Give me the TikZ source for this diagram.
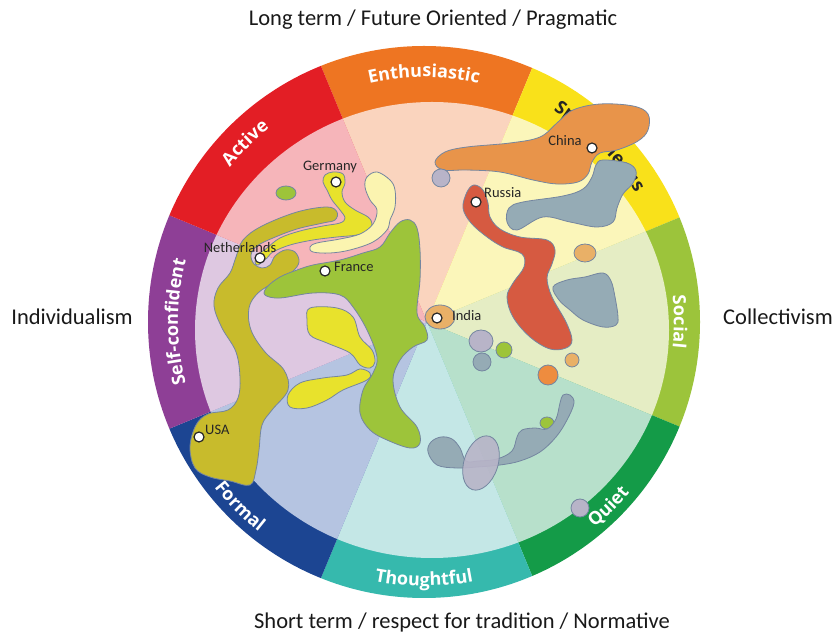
\documentclass[tikz,border=0pt]{standalone}
\usepackage{fontspec}
\setmainfont{Carlito}
\newfontfamily\ringfam{Open Sans}
\usetikzlibrary{decorations.text}
% ring colours
\definecolor{rAct}{HTML}{E31E25}
\definecolor{rEnt}{HTML}{EE7522}
\definecolor{rSpo}{HTML}{F9E11A}
\definecolor{rSoc}{HTML}{9CC43B}
\definecolor{rQui}{HTML}{149B48}
\definecolor{rTho}{HTML}{36B9AD}
\definecolor{rFor}{HTML}{1C4592}
\definecolor{rSel}{HTML}{8E3F96}
% pale wedge colours
\definecolor{pAct}{HTML}{F6B5BA}
\definecolor{pEnt}{HTML}{FAD4BE}
\definecolor{pSpo}{HTML}{FBF6BA}
\definecolor{pSoc}{HTML}{E5EDC4}
\definecolor{pQui}{HTML}{B7E0CB}
\definecolor{pTho}{HTML}{C4E7E6}
\definecolor{pFor}{HTML}{B5C4E1}
\definecolor{pSel}{HTML}{DEC8E1}
% blob colours
\definecolor{blobline}{HTML}{7486A0}
\definecolor{bOlive}{HTML}{C8BB2C}
\definecolor{bYellow}{HTML}{E8E22C}
\definecolor{bPale}{HTML}{FBF4B0}
\definecolor{bGreen}{HTML}{9DC43A}
\definecolor{bChina}{HTML}{E8944A}
\definecolor{bRussia}{HTML}{D65A41}
\definecolor{bSlate}{HTML}{95ABB5}
\definecolor{bLav}{HTML}{B8B4C8}
\definecolor{bLtOr}{HTML}{E9B067}
\definecolor{bOr}{HTML}{EE8C3F}
\newcommand\ringlab{\ringfam\fontsize{18}{22}\selectfont\bfseries\color{white}}
\newcommand\ringlabdark{\ringfam\fontsize{18}{22}\selectfont\bfseries\color{black!85}}
\tikzset{
  blob/.style={draw=blobline, line width=0.8pt},
  cdot/.style={circle, fill=white, draw=black!85, line width=1.2pt, minimum size=10pt, inner sep=0pt},
  country/.style={font=\fontsize{14.5}{16}\selectfont, text=black!85, inner sep=0pt},
  titletext/.style={font=\fontsize{22.5}{26}\selectfont, text=black!90, inner sep=0pt},
}
\begin{document}
\begin{tikzpicture}[x=1pt,y=1pt]
\useasboundingbox (0,0) rectangle (835,637);
\fill[white] (0,0) rectangle (835,637);
\coordinate (O) at (424,315);
\coordinate (A) at (427,315);
% outer ring sectors
\begin{scope}
  \clip (O) circle [radius=276];
  \fill[rEnt] (A) -- +(67.5:400) -- +(112.5:400) -- cycle;
  \fill[rSpo] (A) -- +(22.5:400) -- +(67.5:400) -- cycle;
  \fill[rSoc] (A) -- +(-22.5:400) -- +(22.5:400) -- cycle;
  \fill[rQui] (A) -- +(-67.5:400) -- +(-22.5:400) -- cycle;
  \fill[rTho] (A) -- +(-112.5:400) -- +(-67.5:400) -- cycle;
  \fill[rFor] (A) -- +(-157.5:400) -- +(-112.5:400) -- cycle;
  \fill[rSel] (A) -- +(157.5:400) -- +(202.5:400) -- cycle;
  \fill[rAct] (A) -- +(112.5:400) -- +(157.5:400) -- cycle;
\end{scope}
% pale inner wedges
\begin{scope}
  \clip (432,307) ellipse [x radius=237, y radius=228];
  \fill[pEnt] (A) -- +(67.5:400) -- +(112.5:400) -- cycle;
  \fill[pSpo] (A) -- +(22.5:400) -- +(67.5:400) -- cycle;
  \fill[pSoc] (A) -- +(-22.5:400) -- +(22.5:400) -- cycle;
  \fill[pQui] (A) -- +(-67.5:400) -- +(-22.5:400) -- cycle;
  \fill[pTho] (A) -- +(-112.5:400) -- +(-67.5:400) -- cycle;
  \fill[pFor] (A) -- +(-157.5:400) -- +(-112.5:400) -- cycle;
  \fill[pSel] (A) -- +(157.5:400) -- +(202.5:400) -- cycle;
  \fill[pAct] (A) -- +(112.5:400) -- +(157.5:400) -- cycle;
\end{scope}
% ring labels
\path[decorate, decoration={text along path, text={|\ringlab|Enthusiastic}, text align=center}]
  (O) ++(112:245) arc[start angle=112, end angle=68, radius=245];
\path[decorate, decoration={text along path, text={|\ringlabdark|Spontaneous}, text align=center}]
  (O) ++(67:248) arc[start angle=67, end angle=23, radius=248];
\path[decorate, decoration={text along path, text={|\ringlab|Social}, text align=center}]
  (O) ++(22:250) arc[start angle=22, end angle=-22, radius=250];
\path[decorate, decoration={text along path, text={|\ringlab|Self-confident}, text align=center}]
  (O) ++(205:246) arc[start angle=205, end angle=155, radius=246];
\path[decorate, decoration={text along path, text={|\ringlab|Active}, text align=center}]
  (O) ++(157:248) arc[start angle=157, end angle=113, radius=248];
\path[decorate, decoration={text along path, text={|\ringlab|Thoughtful}, text align=center}]
  (O) ++(-112:264) arc[start angle=-112, end angle=-68, radius=264];
\path[decorate, decoration={text along path, text={|\ringlab|Formal}, text align=center}]
  (O) ++(-157:267) arc[start angle=-157, end angle=-113, radius=267];
\path[decorate, decoration={text along path, text={|\ringlab|Quiet}, text align=center}]
  (O) ++(-67:267) arc[start angle=-67, end angle=-23, radius=267];
% outer titles
\node[titletext] (tTop) at (433,617) {Long term / Future Oriented / Pragmatic};
\node[titletext] (tBot) at (462,14) {Short term / respect for tradition / Normative};
\node[titletext] (tInd) at (72,320) {Individualism};
\node[titletext] (tCol) at (778,320) {Collectivism};
% blobs, in image coordinates (y down)
\begin{scope}[yshift=637pt, yscale=-1]
  % Netherlands / USA
  \draw[blob, fill=bOlive] plot[smooth cycle, tension=0.6] coordinates {(243,240) (262,226) (297,212) (327,207) (337,212) (335,220) (323,223) (297,229) (273,238) (257,246) (251,255) (254,264) (262,268) (270,265) (275,256) (285,250) (295,252) (299,262) (292,272) (275,282) (258,293) (249,308) (251,330) (265,352) (284,370) (288,390) (272,410) (262,425) (259,450) (256,470) (250,485) (230,481) (210,477) (195,468) (190,447) (196,425) (208,414) (228,410) (238,398) (240,378) (236,352) (222,328) (214,306) (218,288) (230,273) (236,257)};
  % Germany
  \draw[blob, fill=bYellow] plot[smooth cycle, tension=0.6] coordinates {(325,175) (333,172) (343,174) (345,183) (342,192) (345,202) (355,210) (368,217) (372,224) (368,231) (357,235) (337,237) (313,240) (290,245) (273,252) (267,258) (258,265) (255,262) (258,255) (267,248) (280,238) (300,231) (323,226) (340,223) (345,218) (340,210) (332,200) (327,190) (323,182)};
  % pale yellow
  \draw[blob, fill=bPale] plot[smooth cycle, tension=0.6] coordinates {(377,172) (390,180) (395,190) (395,207) (390,220) (387,230) (373,242) (350,250) (330,253) (313,252) (310,247) (317,243) (340,239) (360,234) (373,224) (377,210) (370,200) (365,187) (367,177)};
  % lower yellow blobs
  \draw[blob, fill=bYellow] plot[smooth cycle, tension=0.6] coordinates {(310,308) (337,308) (353,317) (360,337) (372,350) (375,362) (370,368) (360,365) (350,353) (327,343) (310,335) (307,320)};
  \draw[blob, fill=bYellow] plot[smooth cycle, tension=0.6] coordinates {(360,369) (370,373) (367,380) (343,390) (327,400) (307,408) (290,407) (288,395) (300,383) (323,378) (347,375)};
  % France
  \draw[blob, fill=bGreen] plot[smooth cycle, tension=0.6] coordinates {(400,222) (410,220) (417,228) (420,250) (420,280) (417,313) (425,327) (427,340) (413,347) (400,360) (393,380) (400,407) (417,427) (420,443) (410,448) (387,440) (370,430) (360,413) (363,390) (373,373) (377,357) (367,330) (353,307) (340,295) (313,293) (280,298) (265,295) (267,287) (280,277) (297,270) (313,265) (340,260) (363,253) (380,247) (390,233)};
  % small lime ellipse
  \draw[blob, fill=bGreen] (286,193) ellipse [x radius=10, y radius=7];
  % China
  \draw[blob, fill=bChina] plot[smooth cycle, tension=0.6] coordinates {(435,162) (445,152) (467,147) (510,143) (540,137) (558,122) (573,110) (600,104) (633,106) (648,114) (648,130) (638,141) (617,150) (600,153) (592,162) (588,174) (578,182) (557,184) (533,180) (500,172) (467,170) (443,170)};
  \draw[blob, fill=bLav] (441,178) circle [radius=9];
  % slate blob 1
  \draw[blob, fill=bSlate] plot[smooth cycle, tension=0.6] coordinates {(603,160) (627,163) (636,171) (633,183) (623,194) (617,208) (613,222) (597,227) (570,222) (543,217) (517,230) (507,222) (509,208) (523,202) (563,196) (583,189) (592,177) (596,165)};
  % Russia
  \draw[blob, fill=bRussia] plot[smooth cycle, tension=0.6] coordinates {(467,192) (474,185) (483,190) (488,203) (490,217) (500,229) (520,237) (547,240) (555,250) (552,264) (547,278) (552,297) (566,322) (572,340) (566,348) (550,349) (530,337) (513,317) (507,297) (513,283) (524,267) (522,254) (503,247) (487,237) (471,223) (463,208)};
  % slate blob 2
  \draw[blob, fill=bSlate] plot[smooth cycle, tension=0.6] coordinates {(553,287) (567,280) (585,277) (603,273) (611,281) (615,297) (618,317) (616,325) (603,327) (583,320) (570,310) (559,300)};
  % small circles
  \draw[blob, fill=bLtOr] (585,253) ellipse [x radius=11, y radius=9];
  \draw[blob, fill=bLtOr] (572,360) circle [radius=7];
  \draw[blob, fill=bOr] (548,375) circle [radius=10];
  \draw[blob, fill=bLav] (481,341) ellipse [x radius=12, y radius=11];
  \draw[blob, fill=bSlate] (482,362) circle [radius=9];
  \draw[blob, fill=bGreen] (504,350) circle [radius=8];
  \draw[blob, fill=bGreen] (547,423) ellipse [x radius=7, y radius=6];
  % India
  \draw[blob, fill=bLtOr] (440,317) ellipse [x radius=15, y radius=12];
  % wave
  \draw[blob, fill=bSlate] plot[smooth cycle, tension=0.6] coordinates {(428,452) (431,442) (441,437) (452,439) (460,448) (466,461) (478,461) (497,459) (512,451) (517,437) (522,430) (535,428) (547,429) (556,419) (560,403) (563,395) (570,395) (574,403) (567,420) (556,437) (540,452) (520,461) (500,465) (477,467) (457,468) (437,465)};
  \draw[blob, fill=bLav, fill opacity=0.9] (481,463) ellipse [x radius=28, y radius=17, rotate=108];
  \draw[blob, fill=bLav] (580,508) circle [radius=9];
  % dots
  \node[cdot] (dGer) at (336,182) {};
  \node[cdot] (dNet) at (260,258) {};
  \node[cdot] (dFra) at (325,271) {};
  \node[cdot] (dUSA) at (199,437) {};
  \node[cdot] (dChi) at (592,148) {};
  \node[cdot] (dRus) at (476,202) {};
  \node[cdot] (dInd) at (437,318) {};
  % country names
  \node[country] (lGer) at (330,167) {Germany};
  \node[country] (lNet) at (240,248) {Netherlands};
  \node[country, anchor=west] (lFra) at (334,267) {France};
  \node[country, anchor=west] (lUSA) at (205,430) {USA};
  \node[country] (lChi) at (565,141) {China};
  \node[country, anchor=west] (lRus) at (484,193) {Russia};
  \node[country, anchor=west] (lInd) at (452,316) {India};
\end{scope}
\end{tikzpicture}
\end{document}
